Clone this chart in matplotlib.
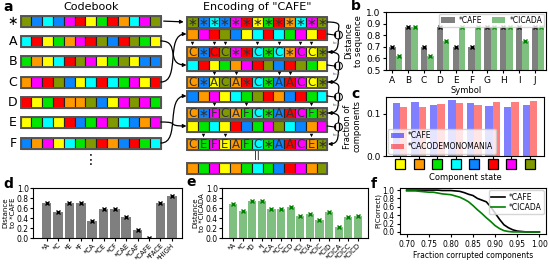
import numpy as np
import matplotlib.pyplot as plt
from matplotlib.patches import Rectangle, Circle, FancyArrowPatch
from matplotlib.path import Path
from matplotlib.transforms import blended_transform_factory

W, H = 549, 267

# ---- panel a: codebook (colour codes per component) ----
codebook_keys = ['*', 'A', 'B', 'C', 'D', 'E', 'F']
row_star = ['o', 'b', 'c', 'b', 'm', 'r', 'y', 'g', 'r', 'n', 'c', 'm', 'o']
row_A = ['c', 'r', 'y', 'g', 'n', 'm', 'r', 'o', 'b', 'r', 'o', 'g', 'y']
row_B = ['g', 'n', 'y', 'c', 'r', 'o', 'm', 'y', 'g', 'o', 'y', 'b', 'b']
row_C = ['n', 'm', 'r', 'o', 'b', 'y', 'c', 'r', 'c', 'g', 'm', 'y', 'r']
row_D = ['r', 'y', 'g', 'r', 'n', 'n', 'o', 'b', 'y', 'm', 'o', 'm', 'g']
row_E = ['y', 'g', 'c', 'y', 'r', 'b', 'g', 'm', 'o', 'c', 'b', 'n', 'm']
row_F = ['b', 'n', 'm', 'y', 'c', 'g', 'o', 'r', 'n', 'b', 'r', 'g', 'c']
word = 'CAFE'
picked = [[0, 2, 3, 6, 8, 10, 11], [2, 4, 8, 9], [2, 5, 11], [1, 3, 11]]

# ---- panel b ----
symbols = list('ABCDEFGHIJ')
dist_cafe = [0.70, 0.875, 0.70, 0.875, 0.70, 0.70, 0.875, 0.875, 0.875, 0.875]
dist_cicada = [0.625, 0.875, 0.625, 0.75, 0.875, 0.875, 0.875, 0.875, 0.75, 0.875]

# ---- panel c ----
states = ['y', 'n', 'g', 'c', 'b', 'r', 'm', 'o']
frac_cafe = [0.125, 0.127, 0.122, 0.133, 0.126, 0.119, 0.117, 0.120]
frac_caco = [0.117, 0.116, 0.123, 0.126, 0.122, 0.127, 0.129, 0.130]

# ---- panel d ----
d_labels = ['*A', '*C', '*E', '*F', '*CA', '*CE', '*CF', '*CAE', '*CAF', '*CAFE', '*FACE', '*HIGH']
d_values = [0.70, 0.52, 0.70, 0.70, 0.34, 0.58, 0.58, 0.43, 0.17, 0.0, 0.70, 0.84]

# ---- panel e ----
e_labels = ['*A', '*C', '*D', '*I', '*CA', '*CC', '*CD', '*CI', '*CIA', '*CIC', '*CID',
            '*CICA', '*CICC', '*CICD']
e_values = [0.68, 0.55, 0.75, 0.75, 0.58, 0.58, 0.62, 0.45, 0.49, 0.37, 0.53, 0.22, 0.42, 0.45]

# ---- panel f ----
frac_corrupt = [0.70, 0.71, 0.72, 0.73, 0.74, 0.75, 0.76, 0.77, 0.78, 0.79, 0.80, 0.81, 0.82,
                0.83, 0.84, 0.85, 0.86, 0.87, 0.88, 0.89, 0.90, 0.91, 0.92, 0.93, 0.94, 0.95,
                0.96, 0.97, 0.98, 0.99, 1.00]
p_cafe = [1.0, 1.0, 1.0, 1.0, 1.0, 1.0, 1.0, 1.0, 0.99, 0.99, 0.99, 0.98, 0.97, 0.94, 0.90,
          0.87, 0.80, 0.76, 0.72, 0.60, 0.45, 0.30, 0.17, 0.10, 0.05, 0.02, 0.01, 0.0, 0.0,
          0.0, 0.0]
p_cicada = [0.98, 0.98, 0.98, 0.97, 0.96, 0.95, 0.95, 0.93, 0.91, 0.90, 0.89, 0.86, 0.83,
            0.78, 0.72, 0.63, 0.53, 0.44, 0.34, 0.25, 0.15, 0.08, 0.03, 0.01, 0.0, 0.0, 0.0,
            0.0, 0.0, 0.0, 0.0]

state_colors = {'y': '#ffff00', 'n': '#ff9900', 'g': '#00e600', 'c': '#00ffff',
                'b': '#0a84ff', 'r': '#ff0000', 'm': '#ff00ff', 'o': '#809900'}

plt.rcParams['font.size'] = 6
plt.rcParams['axes.linewidth'] = 0.8

fig = plt.figure(figsize=(W / 100, H / 100), dpi=100)


def add_px(l, t, r, b):
    return fig.add_axes([l / W, 1 - b / H, (r - l) / W, (b - t) / H])


# ================= panel a (schematic, pixel coords) =================
axa = fig.add_axes([0, 0, 1, 1])
axa.set_xlim(0, W)
axa.set_ylim(H, 0)
axa.axis('off')

cw, ch = 10.8, 11.0


def draw_row(x0, yc, colors, letters=None):
    for i, c in enumerate(colors):
        axa.add_patch(Rectangle((x0 + i * cw, yc - ch / 2), cw, ch, fc=state_colors[c],
                                ec='#222222', lw=0.8))
        if letters is not None:
            s = '\u2217' if letters[i] == '*' else letters[i]
            axa.text(x0 + (i + 0.5) * cw, yc + 0.3, s, ha='center', va='center',
                     fontsize=8.5, color='#333333')
    axa.add_patch(Rectangle((x0, yc - ch / 2), cw * len(colors), ch, fc='none',
                            ec='#555555', lw=1.4))


def curve(p0, p1, p2, p3, arrow=True):
    path = Path([p0, p1, p2, p3], [Path.MOVETO, Path.CURVE4, Path.CURVE4, Path.CURVE4])
    axa.add_patch(FancyArrowPatch(path=path, arrowstyle='-|>' if arrow else '-',
                                  mutation_scale=5, lw=0.9, color='black'))


rows = {'*': row_star, 'A': row_A, 'B': row_B, 'C': row_C, 'D': row_D, 'E': row_E, 'F': row_F}
cb_x0 = 20.5
cb_y = [21, 41, 61, 82, 102, 122, 143]
axa.text(cb_x0 + 6.5 * cw, 7, 'Codebook', ha='center', va='center', fontsize=8)
for key, yc in zip(codebook_keys, cb_y):
    draw_row(cb_x0, yc, rows[key])
    axa.text(13, yc + 0.5, '\u2217' if key == '*' else key, ha='center', va='center',
             fontsize=9)
axa.text(cb_x0 + 6.5 * cw, 160, '\u22ee', ha='center', va='center', fontsize=10)

en_x0 = 187
res_y = [22, 52, 82, 113, 144]
ent_y = [34, 65, 96, 126]
axa.text(en_x0 + 6.5 * cw, 7, 'Encoding of "CAFE"', ha='center', va='center', fontsize=8)

cur_c = list(row_star)
cur_l = ['*'] * 13
draw_row(en_x0, res_y[0], cur_c, cur_l)
cb_end = cb_x0 + 13 * cw
en_end = en_x0 + 13 * cw
axa.annotate('', xy=(en_x0 - 0.5, res_y[0]), xytext=(cb_end, cb_y[0]),
             arrowprops=dict(arrowstyle='-|>', mutation_scale=5, lw=0.9, color='black'))

for k, letter in enumerate(word):
    entry = rows[letter]
    ye = ent_y[k]
    draw_row(en_x0, ye, entry)
    y0 = cb_y[codebook_keys.index(letter)]
    curve((cb_end, y0), (cb_end + 20, y0), (cb_end + 4, ye), (en_x0 - 0.5, ye))
    for i in picked[k]:
        cur_c[i] = entry[i]
        cur_l[i] = letter
        axa.plot(en_x0 + (i + 0.5) * cw, (ye + res_y[k + 1]) / 2 - 0.3, 'v', color='black',
                 ms=2.5, mew=0)
    draw_row(en_x0, res_y[k + 1], cur_c, cur_l)
    # binding operator
    cx, cy = en_end + 11, ye + 1
    axa.add_patch(Circle((cx, cy), 4, fc='white', ec='black', lw=0.7, hatch='||||'))
    curve((en_end, res_y[k]), (cx + 4, res_y[k]), (cx, cy - 9), (cx, cy - 4.5), arrow=False)
    axa.plot([en_end, cx - 4], [ye, cy], color='black', lw=0.8)
    curve((cx, cy + 4), (cx, res_y[k + 1] - 2), (en_end + 8, res_y[k + 1]),
          (en_end + 0.5, res_y[k + 1]))
    axa.text(en_end + 5, cy + 8, 't=%d' % (k + 1), fontsize=3, ha='left', va='center',
             color='#555555')

axa.text(en_x0 + 6.5 * cw, 156, '||', ha='center', va='center', fontsize=6)
draw_row(en_x0, 168, cur_c)

# panel labels
for lab, (lx, ly) in {'a': (3, 7), 'b': (351, 6), 'c': (351, 94), 'd': (3, 184),
                      'e': (186, 182), 'f': (371, 184)}.items():
    fig.text(lx / W, 1 - ly / H, lab, fontsize=10, fontweight='bold', ha='left',
             va='center')

# ================= panel b =================
axb = add_px(386, 12, 546, 70)
xb = np.arange(len(symbols))
axb.bar(xb, dist_cafe, 0.4, color='black', alpha=0.5, label='*CAFE')
axb.bar(xb + 0.4, dist_cicada, 0.4, color='green', alpha=0.5, label='*CICADA')
axb.plot(xb, dist_cafe, 'x', color='black', ms=3, mew=1)
axb.plot(xb + 0.4, dist_cicada, 'x', color='green', ms=3, mew=1)
axb.set_xticks(xb)
axb.set_xticklabels(symbols, fontsize=6.5)
axb.set_xlim(-0.4, 9.7)
axb.set_ylim(0.5, 1.0)
axb.set_yticks([0.5, 0.6, 0.7, 0.8, 0.9, 1.0])
axb.tick_params(labelsize=6.5, length=2.5, pad=1.5)
axb.set_xlabel('Symbol', fontsize=6, labelpad=1)
axb.set_ylabel('Distance\nto sequence', fontsize=6, labelpad=2)
axb.legend(loc='upper right', ncol=2, fontsize=5.5, handlelength=1.8, borderpad=0.3,
           columnspacing=1.2, handletextpad=0.5, borderaxespad=0.2)

# ================= panel c =================
axc = add_px(386, 97, 544, 156)
xc = np.arange(len(states))
axc.bar(xc - 0.2, frac_cafe, 0.4, color='blue', alpha=0.5, label='*CAFE')
axc.bar(xc + 0.2, frac_caco, 0.4, color='red', alpha=0.5, label='*CACODEMONOMANIA')
axc.set_xlim(-0.75, 7.75)
axc.set_ylim(0, 0.14)
axc.set_yticks([0.0, 0.1])
axc.set_xticks(xc)
axc.set_xticklabels([])
axc.tick_params(labelsize=6.5, length=2.5, pad=1.5)
trans = blended_transform_factory(axc.transData, axc.transAxes)
for i, s in enumerate(states):
    axc.add_patch(Rectangle((i - 0.27, -0.22), 0.54, 0.17, transform=trans, clip_on=False,
                            fc=state_colors[s], ec='black', lw=0.9))
axc.set_xlabel('Component state', fontsize=6, labelpad=8)
axc.set_ylabel('Fraction of\ncomponents', fontsize=6, labelpad=3)
axc.legend(loc='lower left', fontsize=5.5, handlelength=1.8, borderpad=0.3,
           borderaxespad=0.3, handletextpad=0.5, labelspacing=0.3)

# ================= panel d =================
axd = add_px(33, 188, 182, 238)
xd = np.arange(len(d_labels))
axd.bar(xd, d_values, 0.85, color='black', alpha=0.5)
axd.plot(xd, d_values, 'x', color='black', ms=3, mew=1)
axd.set_xlim(-1.2, 11.9)
axd.set_ylim(0, 1.0)
axd.set_yticks([0.0, 0.2, 0.4, 0.6, 0.8, 1.0])
axd.set_xticks(xd)
axd.set_xticklabels(d_labels, rotation=45, ha='right', rotation_mode='anchor', fontsize=5)
axd.tick_params(axis='y', labelsize=5.5)
axd.tick_params(length=2, pad=1)
axd.set_ylabel('Distance\nto *CAFE', fontsize=5)
axd.yaxis.set_label_coords(-0.115, 0.5)

# ================= panel e =================
axe = add_px(222, 188, 368, 238)
xe = np.arange(len(e_labels))
axe.bar(xe, e_values, 0.85, color='green', alpha=0.5)
axe.plot(xe, e_values, 'x', color='green', ms=3, mew=1)
axe.set_xlim(-1.15, 14.05)
axe.set_ylim(0, 1.0)
axe.set_yticks([0.0, 0.2, 0.4, 0.6, 0.8, 1.0])
axe.set_xticks(xe)
axe.set_xticklabels(e_labels, rotation=45, ha='right', rotation_mode='anchor', fontsize=5)
axe.tick_params(axis='y', labelsize=5.5)
axe.tick_params(length=2, pad=1)
axe.set_ylabel('Distance\nto *CICADA', fontsize=5)
axe.yaxis.set_label_coords(-0.115, 0.5)

# ================= panel f =================
axf = add_px(400, 188, 546, 234)
axf.plot(frac_corrupt, p_cafe, color='black', lw=1.2, label='*CAFE')
axf.plot(frac_corrupt, p_cicada, color='green', lw=1.2, label='*CICADA')
axf.set_xlim(0.685, 1.015)
axf.set_ylim(-0.05, 1.05)
axf.set_xticks([0.70, 0.75, 0.80, 0.85, 0.90, 0.95, 1.00])
axf.set_yticks([0.0, 0.2, 0.4, 0.6, 0.8, 1.0])
axf.tick_params(labelsize=5.5, length=2.5, pad=1.5)
axf.set_xlabel('Fraction corrupted components', fontsize=5.5, labelpad=1.5)
axf.set_ylabel('P(Correct)', fontsize=5, labelpad=1)
axf.legend(loc='upper right', fontsize=5.5, handlelength=1.8, borderpad=0.3,
           borderaxespad=0.3, handletextpad=0.5, labelspacing=0.2)

fig.savefig('out.png', dpi=100)
